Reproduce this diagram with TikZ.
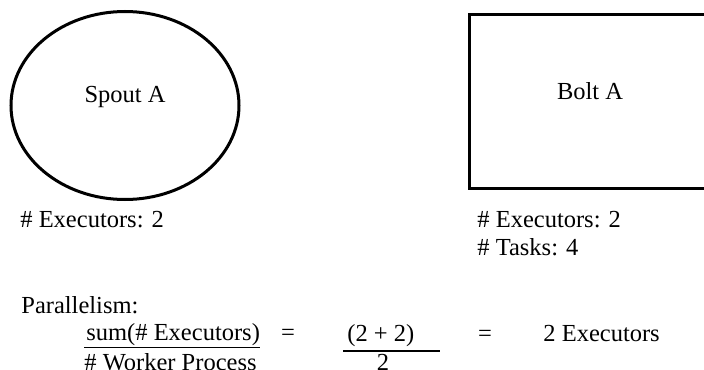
\documentclass[tikz,border=0pt]{standalone}
\usepackage{fontspec}
\setmainfont{Liberation Serif}
\usetikzlibrary{shapes.geometric, positioning}

\begin{document}
\begin{tikzpicture}[x=0.5pt, y=-0.5pt, font=\fontsize{12.25pt}{14pt}\selectfont]

    \tikzstyle{spout} = [ellipse, draw, line width=1.5pt, minimum width=114pt, minimum height=94pt, inner sep=0pt, text depth=11pt]
    \tikzstyle{bolt} = [rectangle, draw, line width=1.5pt, minimum width=121pt, minimum height=86.5pt, inner sep=0pt, text depth=11pt]
    \tikzstyle{info} = [inner sep=0pt, anchor=base west]
    \tikzstyle{sign} = [inner sep=0pt, anchor=base]
    \tikzstyle{bar} = [line width=0.75pt]

    \useasboundingbox (0,0) rectangle (704,369);
    \clip (0,0) rectangle (704,369);

    \node (spoutA) [spout] at (125,105.5) {Spout A\hspace{12pt}};
    \node (boltA) [bolt] at (590,101.5) {Bolt A};

    \node (spoutexec) [info] at (20,227) {\# Executors: 2};
    \node (boltexec) [info] at (477,227) {\# Executors: 2};
    \node (bolttasks) [info] at ([yshift=-14pt]boltexec.base west) {\# Tasks: 4};

    \node (para) [info] at (21,313) {Parallelism:};
    \node (numer) [info] at (86,340) {sum(\# Executors)};
    \node (denom) [info] at (84,370) {\# Worker Process};
    \draw [bar] ([yshift=-1pt]denom.north west |- numer.south) -- ([yshift=-1pt]numer.south east);

    \node (eqA) [sign] at (288,340) {=};
    \node (sumnum) [info] at (347,341) {(2 + 2)};
    \node (sumden) [sign] at (383,370) {2};
    \coordinate (barend) at (440,351);
    \draw [bar] (343,351) -- (barend);

    \node (eqB) [sign] at (485,341) {=};
    \node (result) [info] at (543,341) {2 Executors};

\end{tikzpicture}
\end{document}
